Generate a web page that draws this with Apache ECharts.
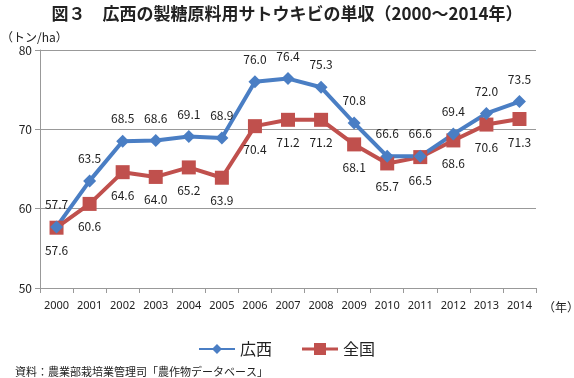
<!DOCTYPE html>
<html><head><meta charset="utf-8">
<script src="https://cdn.jsdelivr.net/npm/echarts@6/dist/echarts.min.js"></script>
<style>html,body{margin:0;padding:0;background:#fff}#c{width:574px;height:378px}</style>
</head><body><div id="c"></div>
<script>
const years = ['2000','2001','2002','2003','2004','2005','2006','2007','2008','2009','2010','2011','2012','2013','2014'];
const guangxi = [57.7,63.5,68.5,68.6,69.1,68.9,76.0,76.4,75.3,70.8,66.6,66.6,69.4,72.0,73.5];
const national = [57.6,60.6,64.6,64.0,65.2,63.9,70.4,71.2,71.2,68.1,65.7,66.5,68.6,70.6,71.3];
const yTicks = [50,60,70,80];
const F = '"Noto Sans CJK JP","Noto Sans",sans-serif';
const chart = echarts.init(document.getElementById('c'));
chart.setOption({
  animation:false,
  textStyle:{fontFamily:F},
  title:[
    {text:'図３　広西の製糖原料用サトウキビの単収（2000～2014年）',left:'center',top:0,textStyle:{fontSize:17,fontWeight:'bold',color:'#222',fontFamily:F}},
    {text:'（トン/ha）',left:-4,top:26,textStyle:{fontSize:12,fontWeight:'normal',color:'#222',fontFamily:F}},
    {text:'（年）',left:538,top:296,textStyle:{fontSize:12,fontWeight:'normal',color:'#222',fontFamily:F}},
    {text:'資料：農業部栽培業管理司「農作物データベース」',left:10,top:361,textStyle:{fontSize:11,fontWeight:'normal',color:'#222',fontFamily:F}}
  ],
  legend:{top:336,left:'center',itemWidth:36,itemHeight:12,itemGap:30,
    textStyle:{fontSize:16,color:'#222',fontFamily:F},
    data:[{name:'広西',icon:'path://M0,5L14,5L18,1L22,5L36,5L36,7L22,7L18,11L14,7L0,7Z'},
          {name:'全国',icon:'path://M0,4.5L12,4.5L12,0L24,0L24,4.5L36,4.5L36,7.5L24,7.5L24,12L12,12L12,7.5L0,7.5Z'}]},
  grid:{left:40,right:38,top:50,bottom:90},
  xAxis:{type:'category',data:years,boundaryGap:true,
    axisLine:{lineStyle:{color:'#999',width:1}},
    axisTick:{show:true,length:5,interval:0,lineStyle:{color:'#999'}},
    axisLabel:{color:'#222',fontSize:11,margin:12,interval:0,fontFamily:'"Liberation Sans Narrow","Noto Sans",sans-serif'}},
  yAxis:{type:'value',min:50,max:80,interval:10,
    axisLine:{show:true,lineStyle:{color:'#999'}},
    axisTick:{show:true,length:5,lineStyle:{color:'#999'}},
    splitLine:{lineStyle:{color:'#999',width:1}},
    axisLabel:{color:'#222',fontSize:12,margin:8}},
  series:[
    {name:'全国',type:'line',data:national,color:'#C0504D',
     lineStyle:{width:4,color:'#C0504D'},symbol:'rect',symbolSize:14,
     itemStyle:{color:'#C0504D'},
     label:{show:true,position:'bottom',distance:10,fontSize:12,color:'#222',formatter:p=>p.value.toFixed(1)}},
    {name:'広西',type:'line',data:guangxi,color:'#4A7EC4',
     lineStyle:{width:4,color:'#4A7EC4'},symbol:'diamond',symbolSize:13,
     itemStyle:{color:'#4A7EC4'},
     label:{show:true,position:'top',distance:10,fontSize:12,color:'#222',formatter:p=>p.value.toFixed(1)}}
  ]
});
</script></body></html>
